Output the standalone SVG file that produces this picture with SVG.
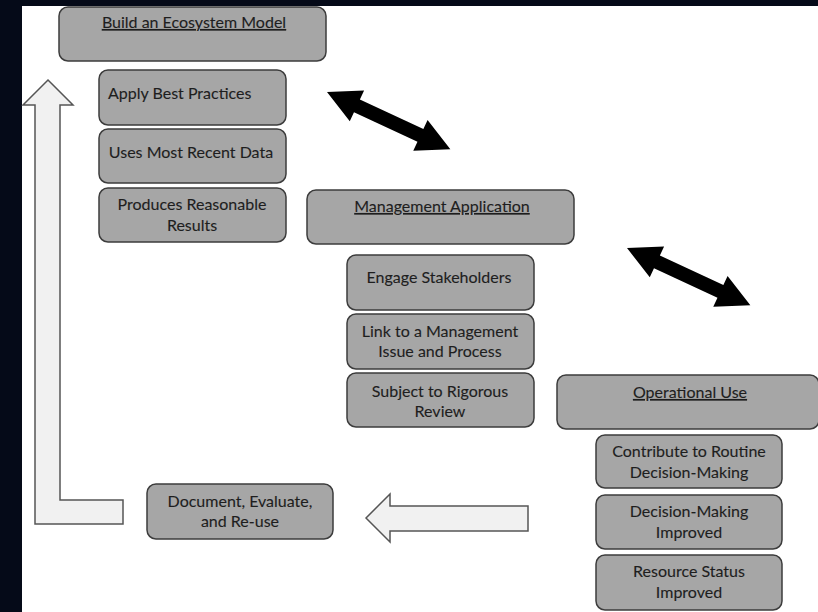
<svg xmlns="http://www.w3.org/2000/svg" width="818" height="612" viewBox="0 0 818 612">
  <style>
    .box { fill: #a6a6a6; stroke: #3c3c3c; stroke-width: 1.5; }
    .lbl { font-family: Lato, "Open Sans", "Liberation Sans", sans-serif; font-size: 16px; fill: #1e1e1e; stroke: #1e1e1e; stroke-width: 0.12; text-anchor: middle; }
    .lbl.left { text-anchor: start; }
    .head { text-decoration: underline; }
    .dbl { fill: #000; }
    .block { fill: #f1f1f1; stroke: #555; stroke-width: 1.5; stroke-linejoin: miter; }
  </style>
  <defs>
    <!-- two-headed arrow, drawn along +x, 136 long -->
    <polygon id="twoWay" points="0,0 33,-17 33,-7 103,-7 103,-17 136,0 103,17 103,7 33,7 33,17"/>
  </defs>

  <!-- frame -->
  <rect x="0" y="0" width="818" height="612" fill="#050a18"/>
  <rect x="22" y="6" width="796" height="606" fill="#ffffff"/>

  <g id="connectors">
    <use href="#twoWay" class="dbl" transform="translate(327,92) rotate(24.9)"/>
    <use href="#twoWay" class="dbl" transform="translate(627,248) rotate(24.9)"/>
    <polygon class="block" points="366,518 390,494 390,506 528,506 528,531 390,531 390,542"/>
    <polygon class="block" points="48,80 73,105 60,105 60,500 123,500 123,524 35,524 35,105 23,105"/>
  </g>

  <g id="build-model">
    <rect class="box" x="59" y="7" width="267" height="54" rx="9"/>
    <text class="lbl head" x="194" y="28">Build an Ecosystem Model</text>
  </g>
  <g id="best-practices">
    <rect class="box" x="99" y="70" width="187" height="55" rx="9"/>
    <text class="lbl left" x="108" y="99">Apply Best Practices</text>
  </g>
  <g id="recent-data">
    <rect class="box" x="99" y="129" width="187" height="54" rx="9"/>
    <text class="lbl" x="191" y="158">Uses Most Recent Data</text>
  </g>
  <g id="reasonable-results">
    <rect class="box" x="99" y="188" width="187" height="54" rx="9"/>
    <text class="lbl" x="192" y="210">Produces Reasonable</text>
    <text class="lbl" x="192" y="231">Results</text>
  </g>

  <g id="management-application">
    <rect class="box" x="307" y="190" width="267" height="54" rx="9"/>
    <text class="lbl head" x="442" y="212">Management Application</text>
  </g>
  <g id="stakeholders">
    <rect class="box" x="347" y="255" width="187" height="55" rx="9"/>
    <text class="lbl" x="439" y="283">Engage Stakeholders</text>
  </g>
  <g id="management-issue">
    <rect class="box" x="347" y="314" width="187" height="55" rx="9"/>
    <text class="lbl" x="440" y="337">Link to a Management</text>
    <text class="lbl" x="440" y="357">Issue and Process</text>
  </g>
  <g id="rigorous-review">
    <rect class="box" x="347" y="373" width="187" height="54" rx="9"/>
    <text class="lbl" x="440" y="397">Subject to Rigorous</text>
    <text class="lbl" x="440" y="417">Review</text>
  </g>

  <g id="operational-use">
    <rect class="box" x="557" y="375" width="262" height="54" rx="9"/>
    <text class="lbl head" x="690" y="398">Operational Use</text>
  </g>
  <g id="routine-decisions">
    <rect class="box" x="596" y="435" width="186" height="53" rx="9"/>
    <text class="lbl" x="689" y="457">Contribute to Routine</text>
    <text class="lbl" x="689" y="478">Decision-Making</text>
  </g>
  <g id="decisions-improved">
    <rect class="box" x="596" y="495" width="186" height="54" rx="9"/>
    <text class="lbl" x="689" y="517">Decision-Making</text>
    <text class="lbl" x="689" y="538">Improved</text>
  </g>
  <g id="resource-status">
    <rect class="box" x="596" y="555" width="186" height="55" rx="9"/>
    <text class="lbl" x="689" y="577">Resource Status</text>
    <text class="lbl" x="689" y="598">Improved</text>
  </g>

  <g id="document-reuse">
    <rect class="box" x="147" y="484" width="186" height="55" rx="9"/>
    <text class="lbl" x="240" y="507">Document, Evaluate,</text>
    <text class="lbl" x="240" y="527">and Re-use</text>
  </g>
</svg>
